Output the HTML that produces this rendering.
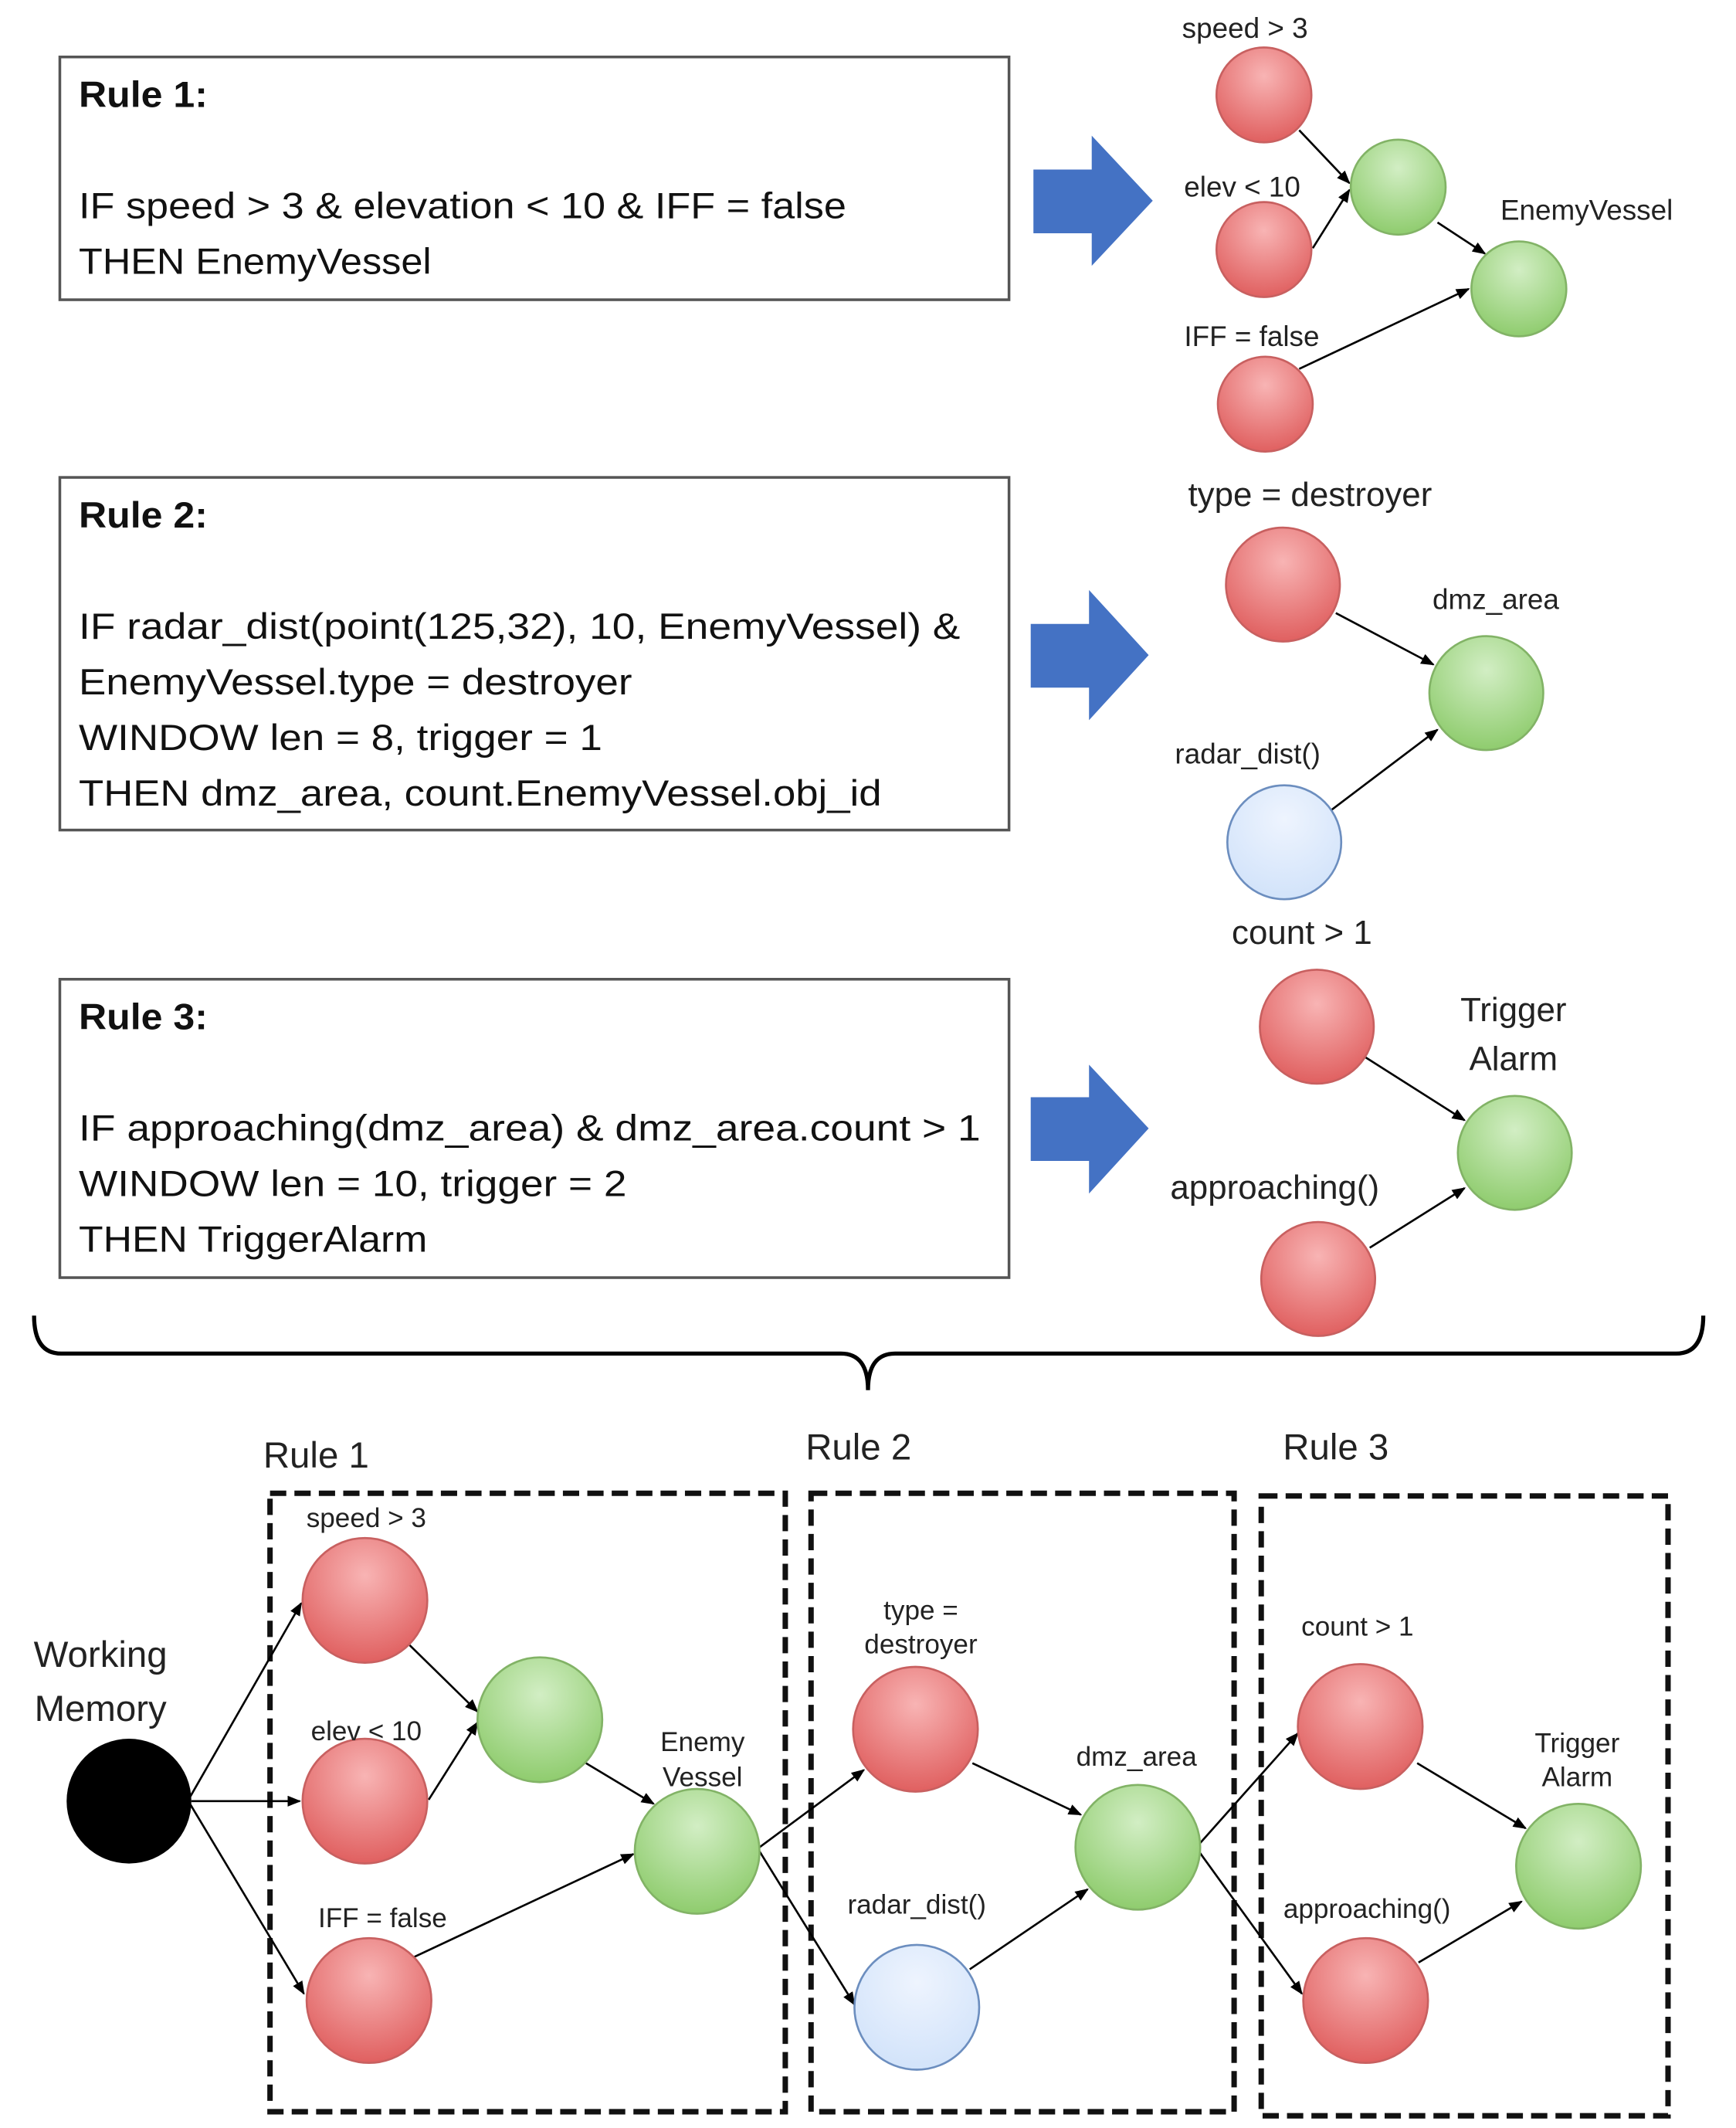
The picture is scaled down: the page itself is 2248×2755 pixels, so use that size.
<!DOCTYPE html>
<html><head><meta charset="utf-8"><style>html,body{margin:0;padding:0;background:#fff}svg{display:block}</style></head>
<body>
<svg width="2248" height="2755" viewBox="0 0 1280 1569" xmlns="http://www.w3.org/2000/svg" font-family="Liberation Sans, sans-serif">
<defs>
<radialGradient id="r" cx="0.5" cy="0.3" r="0.7"><stop offset="0" stop-color="#F8B4B4"/><stop offset="1" stop-color="#E06060"/></radialGradient>
<radialGradient id="g" cx="0.5" cy="0.3" r="0.7"><stop offset="0" stop-color="#D2EEC4"/><stop offset="1" stop-color="#8FCC6E"/></radialGradient>
<radialGradient id="b" cx="0.5" cy="0.3" r="0.7"><stop offset="0" stop-color="#EEF4FE"/><stop offset="1" stop-color="#D2E3FA"/></radialGradient>
<marker id="a" markerWidth="10" markerHeight="8" refX="9" refY="4" orient="auto" markerUnits="userSpaceOnUse"><path d="M0,0 L10,4 L0,8 Z" fill="#000"/></marker>
</defs>
<rect width="1280" height="1569" fill="#fff"/>
<g fill="none" stroke="#555" stroke-width="2">
<rect x="44" y="42" width="700" height="179"/>
<rect x="44" y="352" width="700" height="260"/>
<rect x="44" y="722" width="700" height="220"/>
</g>
<g font-size="27" fill="#111" lengthAdjust="spacingAndGlyphs">
<text x="58" y="79" font-weight="bold" textLength="95" lengthAdjust="spacingAndGlyphs">Rule 1:</text>
<text x="58" y="161" textLength="566" lengthAdjust="spacingAndGlyphs">IF speed &gt; 3 &amp; elevation &lt; 10 &amp; IFF = false</text>
<text x="58" y="202" textLength="260" lengthAdjust="spacingAndGlyphs">THEN EnemyVessel</text>
<text x="58" y="389" font-weight="bold" textLength="95" lengthAdjust="spacingAndGlyphs">Rule 2:</text>
<text x="58" y="471" textLength="650" lengthAdjust="spacingAndGlyphs">IF radar_dist(point(125,32), 10, EnemyVessel) &amp;</text>
<text x="58" y="512" textLength="408" lengthAdjust="spacingAndGlyphs">EnemyVessel.type = destroyer</text>
<text x="58" y="553" textLength="386" lengthAdjust="spacingAndGlyphs">WINDOW len = 8, trigger = 1</text>
<text x="58" y="594" textLength="592" lengthAdjust="spacingAndGlyphs">THEN dmz_area, count.EnemyVessel.obj_id</text>
<text x="58" y="759" font-weight="bold" textLength="95" lengthAdjust="spacingAndGlyphs">Rule 3:</text>
<text x="58" y="841" textLength="665" lengthAdjust="spacingAndGlyphs">IF approaching(dmz_area) &amp; dmz_area.count &gt; 1</text>
<text x="58" y="882" textLength="404" lengthAdjust="spacingAndGlyphs">WINDOW len = 10, trigger = 2</text>
<text x="58" y="923" textLength="257" lengthAdjust="spacingAndGlyphs">THEN TriggerAlarm</text>
</g>
<g fill="#4472C4">
<path d="M762,125 H805 V100 L850,148 L805,196 V172 H762 Z"/>
<path d="M760,460 H803 V435 L847,483 L803,531 V507 H760 Z"/>
<path d="M760,809 H803 V785 L847,832 L803,880 V856 H760 Z"/>
</g>
<g stroke="#000" stroke-width="1.5" marker-end="url(#a)">
<line x1="958" y1="96" x2="995" y2="135"/>
<line x1="968" y1="183" x2="995" y2="140"/>
<line x1="1060" y1="164" x2="1095" y2="187"/>
<line x1="958" y1="272" x2="1083" y2="213"/>
<line x1="985" y1="452" x2="1057" y2="490"/>
<line x1="982" y1="597" x2="1060" y2="538"/>
<line x1="1006" y1="779" x2="1080" y2="826"/>
<line x1="1010" y1="920" x2="1080" y2="876"/>
</g>
<g stroke-width="1.5">
<circle cx="932" cy="70" r="35" fill="url(#r)" stroke="#C86060"/>
<circle cx="932" cy="184" r="35" fill="url(#r)" stroke="#C86060"/>
<circle cx="933" cy="298" r="35" fill="url(#r)" stroke="#C86060"/>
<circle cx="1031" cy="138" r="35" fill="url(#g)" stroke="#82B366"/>
<circle cx="1120" cy="213" r="35" fill="url(#g)" stroke="#82B366"/>
<circle cx="946" cy="431" r="42" fill="url(#r)" stroke="#C86060"/>
<circle cx="1096" cy="511" r="42" fill="url(#g)" stroke="#82B366"/>
<circle cx="947" cy="621" r="42" fill="url(#b)" stroke="#6C8EBF"/>
<circle cx="971" cy="757" r="42" fill="url(#r)" stroke="#C86060"/>
<circle cx="1117" cy="850" r="42" fill="url(#g)" stroke="#82B366"/>
<circle cx="972" cy="943" r="42" fill="url(#r)" stroke="#C86060"/>
</g>
<g font-size="21" fill="#222" text-anchor="middle">
<text x="918" y="28">speed &gt; 3</text>
<text x="916" y="145">elev &lt; 10</text>
<text x="923" y="255">IFF = false</text>
<text x="1170" y="162">EnemyVessel</text>
<text x="1103" y="449">dmz_area</text>
<text x="920" y="563">radar_dist()</text>
</g>
<g font-size="25" fill="#222" text-anchor="middle">
<text x="966" y="373">type = destroyer</text>
<text x="960" y="696">count &gt; 1</text>
<text x="1116" y="753">Trigger</text>
<text x="1116" y="789">Alarm</text>
<text x="940" y="884">approaching()</text>
</g>
<path d="M25,970 Q25,998 45,998 H620 Q640,998 640,1025 Q640,998 660,998 H1236 Q1256,998 1256,970" fill="none" stroke="#000" stroke-width="3"/>
<g font-size="27" fill="#222" text-anchor="middle">
<text x="233" y="1082">Rule 1</text>
<text x="633" y="1076">Rule 2</text>
<text x="985" y="1076">Rule 3</text>
<text x="74" y="1229">Working</text>
<text x="74" y="1269">Memory</text>
</g>
<g fill="none" stroke="#111" stroke-width="4" stroke-dasharray="12,6">
<rect x="199" y="1101" width="380" height="456"/>
<rect x="598" y="1101" width="312" height="456"/>
<rect x="930" y="1103" width="300" height="457"/>
</g>
<g stroke="#000" stroke-width="1.5" marker-end="url(#a)">
<line x1="140" y1="1325" x2="222" y2="1182"/>
<line x1="141" y1="1328" x2="221" y2="1328"/>
<line x1="140" y1="1330" x2="224" y2="1470"/>
<line x1="302" y1="1213" x2="352" y2="1262"/>
<line x1="316" y1="1327" x2="352" y2="1270"/>
<line x1="432" y1="1300" x2="482" y2="1330"/>
<line x1="305" y1="1443" x2="467" y2="1367"/>
<line x1="560" y1="1362" x2="637" y2="1305"/>
<line x1="560" y1="1365" x2="630" y2="1478"/>
<line x1="717" y1="1300" x2="797" y2="1338"/>
<line x1="715" y1="1452" x2="802" y2="1393"/>
<line x1="884" y1="1360" x2="957" y2="1278"/>
<line x1="884" y1="1365" x2="960" y2="1470"/>
<line x1="1045" y1="1300" x2="1125" y2="1348"/>
<line x1="1046" y1="1447" x2="1122" y2="1402"/>
</g>
<g stroke-width="1.5">
<circle cx="95" cy="1328" r="46" fill="#000"/>
<circle cx="269" cy="1180" r="46" fill="url(#r)" stroke="#C86060"/>
<circle cx="269" cy="1328" r="46" fill="url(#r)" stroke="#C86060"/>
<circle cx="272" cy="1475" r="46" fill="url(#r)" stroke="#C86060"/>
<circle cx="398" cy="1268" r="46" fill="url(#g)" stroke="#82B366"/>
<circle cx="514" cy="1365" r="46" fill="url(#g)" stroke="#82B366"/>
<circle cx="675" cy="1275" r="46" fill="url(#r)" stroke="#C86060"/>
<circle cx="839" cy="1362" r="46" fill="url(#g)" stroke="#82B366"/>
<circle cx="676" cy="1480" r="46" fill="url(#b)" stroke="#6C8EBF"/>
<circle cx="1003" cy="1273" r="46" fill="url(#r)" stroke="#C86060"/>
<circle cx="1164" cy="1376" r="46" fill="url(#g)" stroke="#82B366"/>
<circle cx="1007" cy="1475" r="46" fill="url(#r)" stroke="#C86060"/>
</g>
<g font-size="20" fill="#222" text-anchor="middle">
<text x="270" y="1126">speed &gt; 3</text>
<text x="270" y="1283">elev &lt; 10</text>
<text x="282" y="1421">IFF = false</text>
<text x="518" y="1291">Enemy</text>
<text x="518" y="1317">Vessel</text>
<text x="679" y="1194">type =</text>
<text x="679" y="1219">destroyer</text>
<text x="838" y="1302">dmz_area</text>
<text x="676" y="1411">radar_dist()</text>
<text x="1001" y="1206">count &gt; 1</text>
<text x="1163" y="1292">Trigger</text>
<text x="1163" y="1317">Alarm</text>
<text x="1008" y="1414">approaching()</text>
</g>
</svg>
</body></html>
